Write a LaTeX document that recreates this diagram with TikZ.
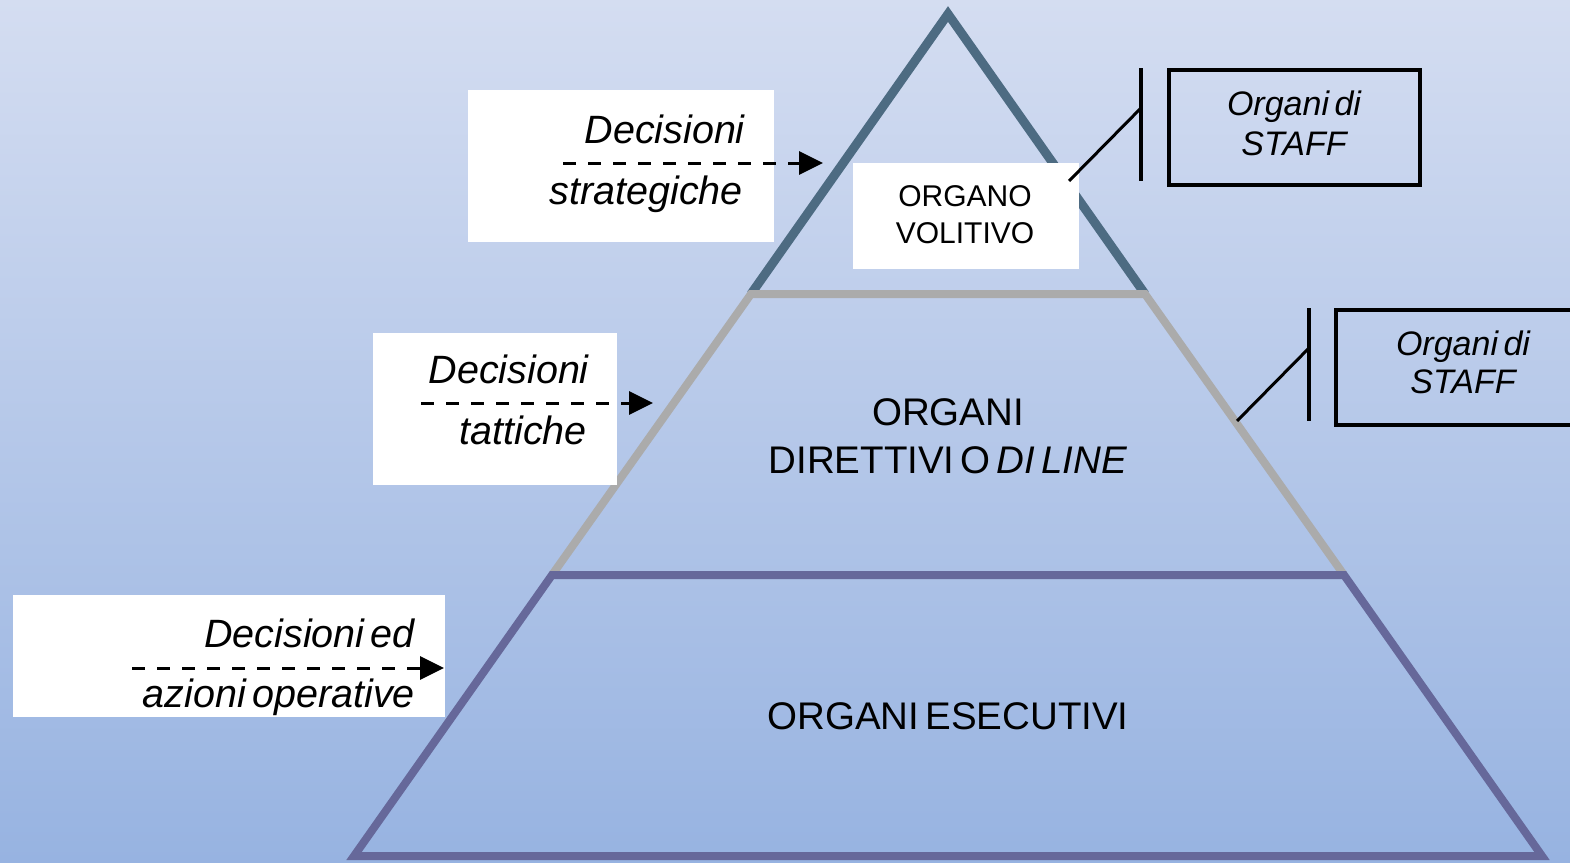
\documentclass[tikz,border=0pt]{standalone}
\usepackage{fontspec}
\setmainfont{Liberation Sans}
\usetikzlibrary{arrows.meta}
\definecolor{bgtop}{HTML}{D4DDF1}
\definecolor{bgbot}{HTML}{97B3E1}
\definecolor{apexcol}{HTML}{4D6B82}
\definecolor{midcol}{HTML}{ABABAB}
\definecolor{basecol}{HTML}{66689A}
\newcommand\narrowspace{\spaceskip=0.16em\relax}
\tikzset{
  whitebox/.style={fill=white, draw=none, inner sep=0, anchor=north west},
  dectext/.style={inner sep=0, anchor=base east, font=\fontsize{39.5}{42}\selectfont\itshape\narrowspace},
  flow/.style={dashed, dash pattern=on 13pt off 12pt, line width=3pt, -{Triangle[length=24pt,width=23pt]}},
  leveltext/.style={inner sep=0, anchor=base, font=\fontsize{38.5}{42}\selectfont\narrowspace},
  stafftext/.style={inner sep=0, anchor=base, font=\fontsize{34}{38}\selectfont\itshape\narrowspace},
  staffbox/.style={draw=black, line width=3.5pt, inner sep=0, anchor=north west},
  bar/.style={draw=black, line width=4pt},
  tie/.style={draw=black, line width=3pt}
}
\begin{document}
\begin{tikzpicture}[x=1pt, y=-1pt]
\useasboundingbox (0,0) rectangle (1570,862);
\shade[top color=bgtop, bottom color=bgbot] (0,0) rectangle (1570,862);

% pyramid: apex, middle band and base
\draw[apexcol, line width=9pt, line join=miter] (751,294) -- (948,14) -- (1145,294);
\draw[midcol, line width=8pt] (552,575) -- (751,294) -- (1145,294) -- (1344,575);
\draw[basecol, line width=8pt, line join=miter] (552,575) -- (1344,575) -- (1542,856) -- (354,856) -- cycle;

% level labels
\node[leveltext] (dir1) at (948,425) {ORGANI};
\node[leveltext] (dir2) at (948,473) {DIRETTIVI O \textit{DI LINE}};
\node[leveltext] (ese) at (948,729) {ORGANI ESECUTIVI};

% top organ
\node[whitebox, minimum width=226pt, minimum height=106pt] (vol) at (853,163) {};
\node[inner sep=0, anchor=base, font=\fontsize{30}{34}\selectfont] (vol1) at (965,206) {ORGANO};
\node[inner sep=0, anchor=base, font=\fontsize{30}{34}\selectfont] (vol2) at (965,243) {VOLITIVO};

% staff organ attached to the top
\node[staffbox, minimum width=251pt, minimum height=115pt] (staff1) at (1167,68) {};
\node[stafftext] (s1a) at (1294,115) {Organi di};
\node[stafftext] (s1b) at (1294,155) {STAFF};
\coordinate (b1t) at (1141,68);
\coordinate (b1b) at (1141,181);
\coordinate (b1m) at (1141,108);
\coordinate (t1) at (1069,181);
\draw[bar] (b1t) -- (b1b);
\draw[tie] (t1) -- (b1m);

% staff organ attached to the middle band
\node[staffbox, minimum width=260pt, minimum height=115pt] (staff2) at (1334,308) {};
\node[stafftext] (s2a) at (1463,355) {Organi di};
\node[stafftext] (s2b) at (1463,393) {STAFF};
\coordinate (b2t) at (1309,308);
\coordinate (b2b) at (1309,421);
\coordinate (b2m) at (1309,348);
\coordinate (t2) at (1237,421);
\draw[bar] (b2t) -- (b2b);
\draw[tie] (t2) -- (b2m);

% strategic decisions
\node[whitebox, minimum width=306pt, minimum height=152pt] (strat) at (468,90) {};
\node[dectext] (strat1) at (745,143) {Decisioni};
\node[dectext] (strat2) at (743,204) {strategiche};
\coordinate (sa) at (563,163);
\coordinate (sb) at (823,163);
\draw[flow] (sa) -- (sb);

% tactical decisions
\node[whitebox, minimum width=244pt, minimum height=152pt] (tatt) at (373,333) {};
\node[dectext] (tatt1) at (589,383) {Decisioni};
\node[dectext] (tatt2) at (587,444) {tattiche};
\coordinate (ta) at (421,403);
\coordinate (tb) at (653,403);
\draw[flow] (ta) -- (tb);

% operational decisions
\node[whitebox, minimum width=432pt, minimum height=122pt] (oper) at (13,595) {};
\node[dectext] (oper1) at (415,647) {Decisioni ed};
\node[dectext] (oper2) at (415,707) {azioni operative};
\coordinate (oa) at (132,668);
\coordinate (ob) at (444,668);
\draw[flow] (oa) -- (ob);
\end{tikzpicture}
\end{document}
